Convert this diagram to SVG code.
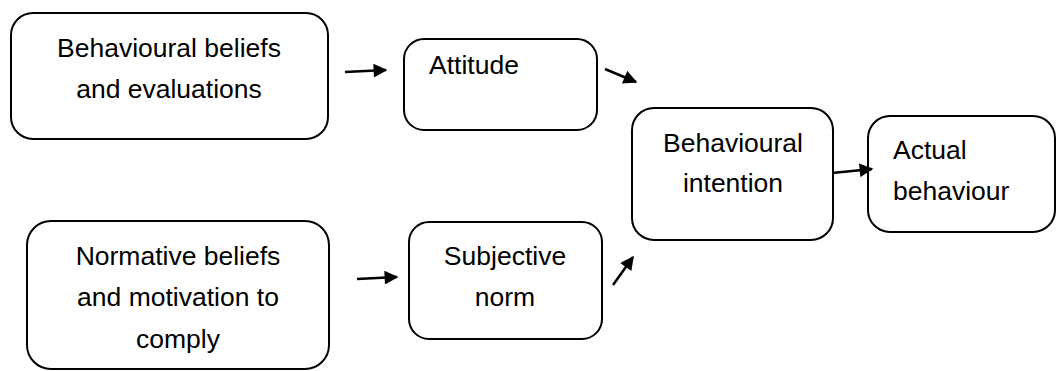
<svg xmlns="http://www.w3.org/2000/svg" width="1056" height="371" viewBox="0 0 1056 371">
<style>
.box{fill:#fff;stroke:#000;stroke-width:2}
.t{font-family:"Liberation Sans",Arial,sans-serif;font-size:26.5px;fill:#000}
.c{text-anchor:middle}
.ln{stroke:#000;stroke-width:2.5;fill:none;marker-end:url(#ah)}
</style>
<defs>
<marker id="ah" viewBox="0 0 10 10" refX="9" refY="5" markerWidth="6.5" markerHeight="5.5" markerUnits="strokeWidth" orient="auto">
<path d="M0,0 L10,5 L0,10 z" fill="#000"/>
</marker>
</defs>
<rect width="1056" height="371" fill="#fff"/>
<g id="beliefs">
<rect class="box" x="11" y="13" width="317" height="126" rx="22"/>
<text class="t c" x="169" y="57">Behavioural beliefs</text>
<text class="t c" x="169" y="98">and evaluations</text>
</g>
<g id="attitude">
<rect class="box" x="404" y="39" width="193" height="91" rx="20"/>
<text class="t" x="429" y="74">Attitude</text>
</g>
<g id="intention">
<rect class="box" x="632" y="108" width="201" height="132" rx="22"/>
<text class="t c" x="733" y="152">Behavioural</text>
<text class="t c" x="733" y="192">intention</text>
</g>
<g id="actual">
<rect class="box" x="868" y="116" width="187" height="116" rx="22"/>
<text class="t" x="893" y="159">Actual</text>
<text class="t" x="893" y="200">behaviour</text>
</g>
<g id="normative">
<rect class="box" x="27" y="221" width="302" height="148" rx="24"/>
<text class="t c" x="178" y="265">Normative beliefs</text>
<text class="t c" x="178" y="306">and motivation to</text>
<text class="t c" x="178" y="348">comply</text>
</g>
<g id="subjective">
<rect class="box" x="409" y="222" width="193" height="117" rx="20"/>
<text class="t c" x="505" y="265">Subjective</text>
<text class="t c" x="505" y="306">norm</text>
</g>
<g id="connectors">
<line class="ln" x1="345" y1="72" x2="386" y2="70"/>
<line class="ln" x1="605" y1="69" x2="636" y2="82"/>
<line class="ln" x1="357" y1="279" x2="397" y2="277"/>
<line class="ln" x1="613" y1="285" x2="633" y2="257"/>
<line class="ln" x1="832" y1="173" x2="872" y2="169"/>
</g>
</svg>
